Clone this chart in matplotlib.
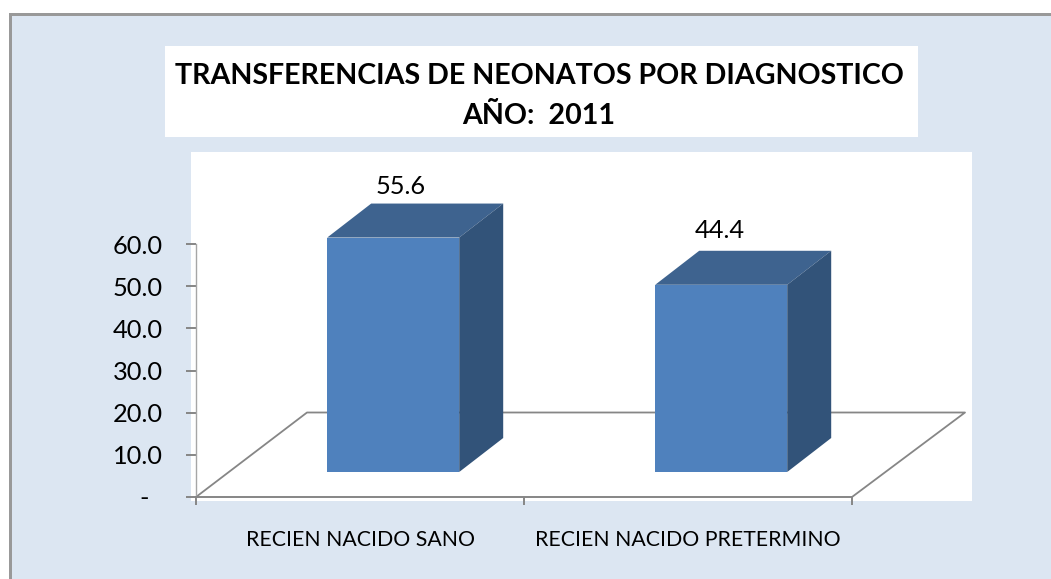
import matplotlib
matplotlib.use('Agg')
import matplotlib.pyplot as plt
from matplotlib.patches import Polygon, Rectangle

categories = ['RECIEN NACIDO SANO', 'RECIEN NACIDO PRETERMINO']
values = [55.6, 44.4]
value_labels = ['55.6', '44.4']
yticks = [0, 10, 20, 30, 40, 50, 60]
yticklabels = ['-  ', '10.0', '20.0', '30.0', '40.0', '50.0', '60.0']
title = 'TRANSFERENCIAS DE NEONATOS POR DIAGNOSTICO\nAÑO:  2011'

W, H = 1051, 579
BG = '#dce6f2'
GREY = '#868686'
FRONT = '#4f81bd'
TOP = '#3e638f'
SIDE = '#325379'

# pixel scale of the fake 3d chart
PX_X = 328                 # pixels per category
PX_Y = 253 / 60            # pixels per value unit


def px(x, y):
    return x / W, 1 - y / H


def fig_rect(fig, x0, y0, x1, y1, color, z=0):
    fig.add_artist(Rectangle(px(x0, y1), (x1 - x0) / W, (y1 - y0) / H,
                             transform=fig.transFigure, color=color, lw=0,
                             zorder=z))


plt.rcParams['font.family'] = ['Lato', 'DejaVu Sans']
fig = plt.figure(figsize=(W / 100, H / 100), dpi=100, facecolor='white')
fig_rect(fig, 10, 14, W, H, BG, z=-3)
fig_rect(fig, 8.5, 13, W, 16, '#999999', z=-2)
fig_rect(fig, 8.5, 13, 12, H, '#999999', z=-2)
fig_rect(fig, 165, 46, 918, 137, 'white', z=-2)

ax = fig.add_axes([191 / W, 1 - 501 / H, 781 / W, 349 / H])
ax.set_xlim(-5 / PX_X, 776 / PX_X)
ax.set_ylim(-4 / PX_Y, 345 / PX_Y)
ax.set_facecolor('white')

# floor of the 3d box
depth_y = 84.5 / PX_Y
ax.plot([0, 111 / PX_X, 2 + 113 / PX_X, 2], [0, depth_y, depth_y, 0],
        color=GREY, lw=1.3, zorder=1, clip_on=False)

# bars sit halfway into the box
shift_x, shift_y = 33.2 / PX_X, 25 / PX_Y
bar_w = 132 / PX_X
bar_dx, bar_dy = 44 / PX_X, 34 / PX_Y
label_offsets = [(7, 51), (-1, 54)]

centers = [i + 0.5 + shift_x for i in range(len(values))]
ax.bar(centers, values, width=bar_w, bottom=shift_y, color=FRONT, zorder=3)
for c, v, lab, off in zip(centers, values, value_labels, label_offsets):
    l, r = c - bar_w / 2, c + bar_w / 2
    b, t = shift_y, shift_y + v
    ax.add_patch(Polygon([(l, t), (r, t), (r + bar_dx, t + bar_dy),
                          (l + bar_dx, t + bar_dy)], color=TOP, lw=0, zorder=3))
    ax.add_patch(Polygon([(r, b), (r, t), (r + bar_dx, t + bar_dy),
                          (r + bar_dx, b + bar_dy)], color=SIDE, lw=0, zorder=3))
    ax.annotate(lab, (c, t), xytext=(off[0] * 0.72, off[1] * 0.72),
                textcoords='offset points', ha='center', va='center',
                fontsize=18.3, color='black')

for s in ['top', 'right']:
    ax.spines[s].set_visible(False)
ax.spines['left'].set_position(('data', 0))
ax.spines['left'].set_bounds(0, 60)
ax.spines['bottom'].set_position(('data', 0))
ax.spines['bottom'].set_bounds(0, 2)
ax.spines['left'].set_color('#a6a6a6')
ax.spines['bottom'].set_color(GREY)
ax.spines['left'].set_linewidth(1.0)
ax.spines['bottom'].set_linewidth(1.4)

ax.set_yticks(yticks, yticklabels, fontsize=18.3, color='black')
ax.tick_params(axis='y', length=7, width=1.4, color=GREY, pad=17)
ax.set_xticks([0, 1, 2], ['', '', ''])
ax.tick_params(axis='x', which='major', length=5.8, width=1.4, color=GREY)
ax.set_xticks([0.5, 1.5], categories, minor=True, fontsize=15.3)
ax.tick_params(axis='x', which='minor', length=0, pad=24)

fig.text(539 / W, 1 - 96 / H, title, ha='center', va='center', fontsize=20.6,
         fontweight='bold', linespacing=1.67, color='black')

fig.savefig('out.png', dpi=100)
